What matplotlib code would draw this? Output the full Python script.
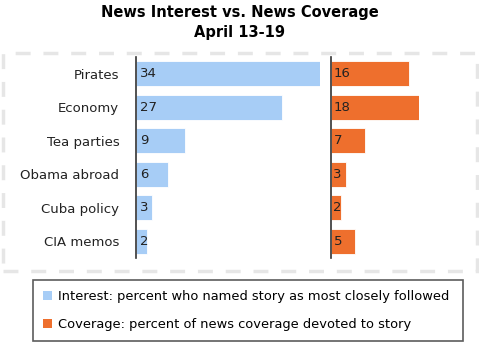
import matplotlib
matplotlib.use("Agg")
from matplotlib import pyplot as plt
from matplotlib.patches import Patch, Rectangle

stories = ["Pirates", "Economy", "Tea parties", "Obama abroad", "Cuba policy", "CIA memos"]
interest = [34, 27, 9, 6, 3, 2]
coverage = [16, 18, 7, 3, 2, 5]

blue = "#a7cdf6"
orange = "#ee6f2d"
W, H = 479, 348

plt.rcParams['font.family'] = 'DejaVu Sans'
fig = plt.figure(figsize=(W / 100, H / 100), dpi=100)


def fr(x0, y0, x1, y1):
    # pixel box (top-left origin) -> figure fraction rect
    return [x0 / W, 1 - y1 / H, (x1 - x0) / W, (y1 - y0) / H]


# dashed frame
fig.patches.append(Rectangle((3 / W, 1 - 271 / H), 474 / W, 218 / H, transform=fig.transFigure,
                             fill=False, ec="#e6e6e6", lw=2.5, ls=(0, (4.3, 3.7))))

ax1 = fig.add_axes(fr(136, 57, 320, 258))
ax2 = fig.add_axes(fr(331, 57, 419, 258))
ypos = range(len(stories))

for ax, vals, col, xmax in [(ax1, interest, blue, 34), (ax2, coverage, orange, 18)]:
    ax.barh(ypos, vals, height=0.75, color=col, edgecolor="white", linewidth=0.6)
    for y, v in zip(ypos, vals):
        ax.text(0.7 if xmax > 20 else 0.5, y, str(v), va="center", ha="left",
                fontsize=9.5, color="#222222")
    ax.set_xlim(0, xmax)
    ax.set_ylim(5.5, -0.5)
    for s in ["top", "right", "bottom"]:
        ax.spines[s].set_visible(False)
    ax.spines["left"].set_color("#333333")
    ax.spines["left"].set_linewidth(1.2)
    ax.set_xticks([])
    ax.tick_params(axis="y", length=0)
    ax.patch.set_alpha(0)

ax1.set_yticks(list(ypos))
ax1.set_yticklabels(stories, fontsize=9.5, color="#222222")
ax1.tick_params(axis="y", pad=12)
ax2.set_yticks([])

fig.text(240 / W, 1 - 12 / H, "News Interest vs. News Coverage", ha="center", va="center",
         fontsize=10.5, fontweight="bold")
fig.text(240 / W, 1 - 33 / H, "April 13-19", ha="center", va="center",
         fontsize=10.5, fontweight="bold")

handles = [Patch(facecolor=blue), Patch(facecolor=orange)]
labels = ["Interest: percent who named story as most closely followed",
          "Coverage: percent of news coverage devoted to story"]
leg = fig.legend(handles, labels, loc="upper left",
                 bbox_to_anchor=(33 / W, 1 - 343 / H, 430 / W, 63 / H), mode="expand",
                 borderaxespad=0, fancybox=False, edgecolor="#333333", fontsize=9.4,
                 handlelength=0.7, handleheight=0.7, handletextpad=0.45,
                 labelspacing=1.2, borderpad=0.75)
leg.get_frame().set_linewidth(1.2)

fig.savefig("out.png", dpi=100)
